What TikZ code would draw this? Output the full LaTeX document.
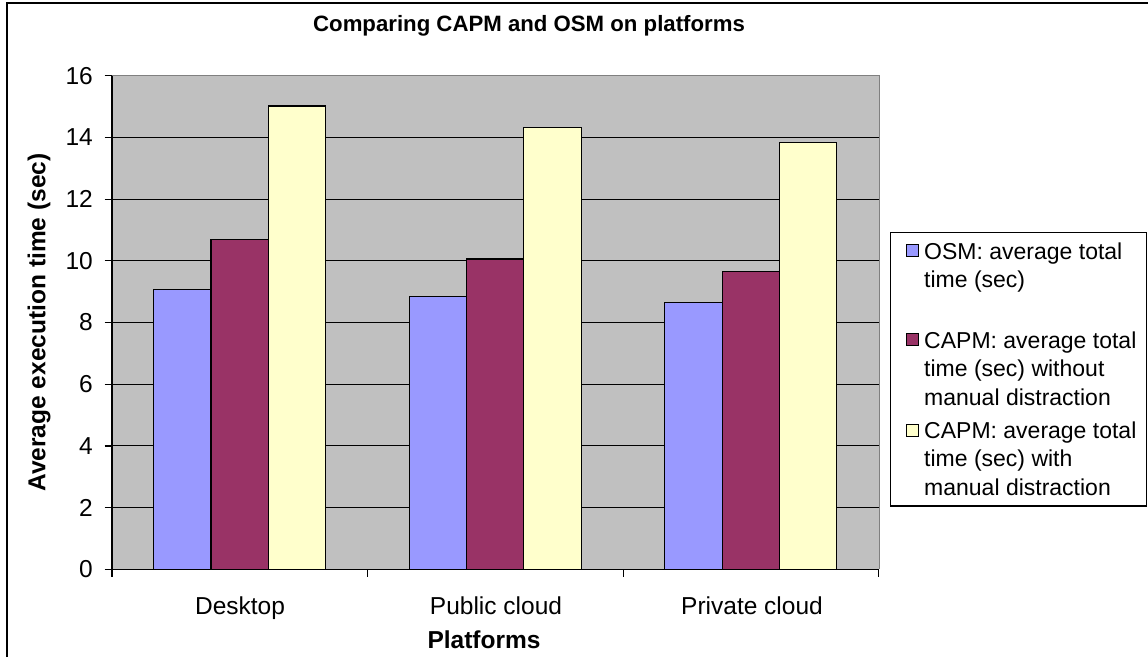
\documentclass[tikz,border=0pt]{standalone}
\usepackage{fontspec}
\setmainfont{Liberation Sans}
\definecolor{plotbg}{HTML}{C0C0C0}
\definecolor{osmblue}{HTML}{9999FF}
\definecolor{capmred}{HTML}{993366}
\definecolor{capmyel}{HTML}{FFFFCC}
\definecolor{frame}{HTML}{808080}
\tikzset{
  txt/.style={inner sep=0pt, font=\fontsize{24.5}{28}\selectfont},
  ltxt/.style={inner sep=0pt, anchor=base west, font=\fontsize{23}{27}\selectfont},
  btxt/.style={inner sep=0pt, font=\fontsize{24.5}{28}\selectfont\bfseries},
  bar/.style={draw=black, line width=1.2pt},
  grid/.style={draw=black, line width=1pt},
  lgmark/.style={draw=black, line width=1pt, minimum width=12pt, minimum height=12pt, inner sep=0pt},
}
\begin{document}
\begin{tikzpicture}[x=1pt,y=-1pt]
\useasboundingbox (0,0) rectangle (1148,657);
\fill[white] (0,0) rectangle (1148,657);
% outer frame (top and left visible)
\draw[line width=2.2pt] (7,657) -- (7,3) -- (1148,3);
% plot area
\fill[plotbg] (112,{569.3-30.85*16}) rectangle (879.3,569.3);
\draw[frame, line width=1pt] (112,{569.3-30.85*16}) -- (879.3,{569.3-30.85*16}) -- (879.3,569.3);
\foreach \v in {2,4,...,14} {
  \draw[grid] (112,{569.3-30.85*\v}) -- (879.3,{569.3-30.85*\v});
}
% bars
\foreach \i/\a/\b/\c in {0/9.08/10.70/15.02, 1/8.84/10.06/14.31, 2/8.66/9.65/13.84} {
  \pgfmathsetmacro{\s}{153.6+255.6*\i}
  \draw[bar, fill=osmblue] (\s,569.3) rectangle ({\s+57.3},{569.3-30.85*\a});
  \draw[bar, fill=capmred] ({\s+57.3},569.3) rectangle ({\s+114.6},{569.3-30.85*\b});
  \draw[bar, fill=capmyel] ({\s+114.6},569.3) rectangle ({\s+171.9},{569.3-30.85*\c});
}
% axes
\draw[line width=1.2pt] (112,{569.3-30.85*16}) -- (112,569.3) -- (879.3,569.3);
\foreach \v in {0,2,...,16} {
  \draw[line width=1.2pt] (104.5,{569.3-30.85*\v}) -- (112,{569.3-30.85*\v});
  \node[txt, anchor=east] (t\v) at (93,{569.3-30.85*\v}) {\v};
}
\foreach \k in {0,1,2,3} {
  \draw[line width=1.2pt] ({112+255.6*\k},569.3) -- ({112+255.6*\k},577);
}
% category labels
\node[txt, anchor=base] (c1) at (240,614) {Desktop};
\node[txt, anchor=base] (c2) at (496,614) {Public cloud};
\node[txt, anchor=base] (c3) at (752,614) {Private cloud};
% axis titles
\node[btxt, anchor=base] (xt) at (484,648) {Platforms};
\node[btxt, rotate=90] (yt) at (39,322.5) {Average execution time (sec)};
\node[inner sep=0pt, anchor=base, font=\fontsize{22.2}{26}\selectfont\bfseries] (title) at (529,31.7) {Comparing CAPM and OSM on platforms};
% legend
\draw[line width=1.2pt, fill=white] (890.7,232.7) rectangle (1146.7,506);
\node[lgmark, fill=osmblue] (m1) at (912,250.5) {};
\node[lgmark, fill=capmred] (m2) at (912,339.5) {};
\node[lgmark, fill=capmyel] (m3) at (912,430.5) {};
\node[ltxt] (l1a) at (924,259.3) {OSM: average total};
\node[ltxt] (l1b) at (924,287.8) {time (sec)};
\node[ltxt] (l2a) at (924,348.3) {CAPM: average total};
\node[ltxt] (l2b) at (924,376.8) {time (sec) without};
\node[ltxt] (l2c) at (924,405.3) {manual distraction};
\node[ltxt] (l3a) at (924,438.3) {CAPM: average total};
\node[ltxt] (l3b) at (924,466.8) {time (sec) with};
\node[ltxt] (l3c) at (924,495.3) {manual distraction};
\end{tikzpicture}
\end{document}
